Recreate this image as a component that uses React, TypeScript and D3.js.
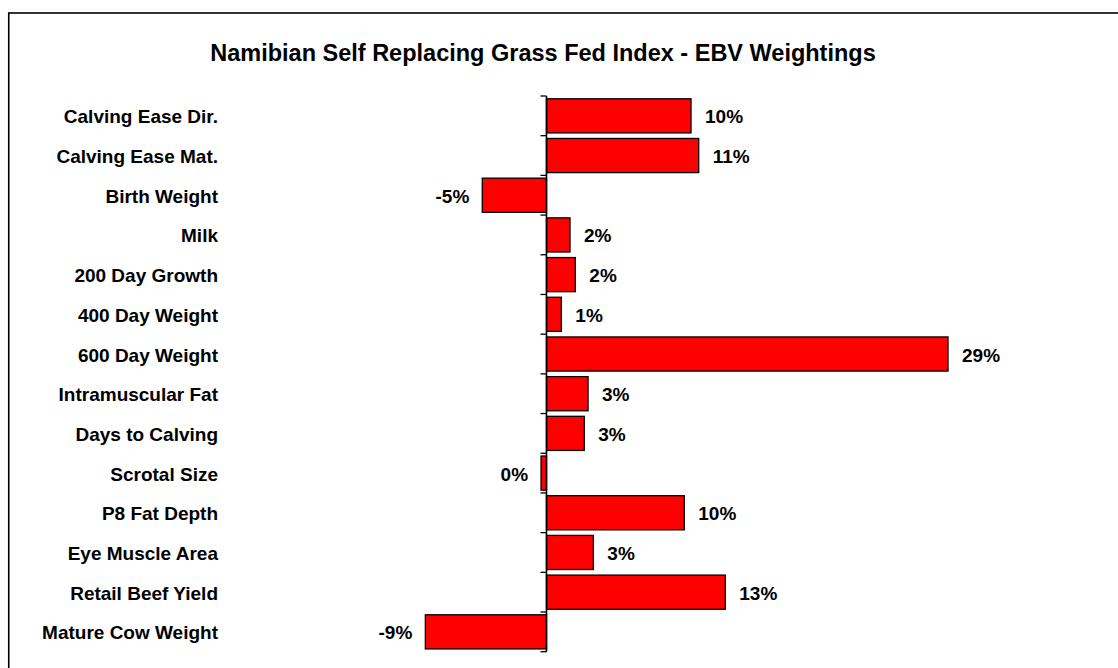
import React, { useEffect, useRef } from "react";
import * as d3 from "d3";

const title = "Namibian Self Replacing Grass Fed Index - EBV Weightings";
const categories = [
  "Calving Ease Dir.",
  "Calving Ease Mat.",
  "Birth Weight",
  "Milk",
  "200 Day Growth",
  "400 Day Weight",
  "600 Day Weight",
  "Intramuscular Fat",
  "Days to Calving",
  "Scrotal Size",
  "P8 Fat Depth",
  "Eye Muscle Area",
  "Retail Beef Yield",
  "Mature Cow Weight",
];
const weights = [
  0.1033, 0.1088, -0.0459, 0.0168, 0.0206, 0.0106, 0.287, 0.0297, 0.027,
  -0.0039, 0.0985, 0.0335, 0.1278, -0.0866,
];
const valueLabels = [
  "10%", "11%", "-5%", "2%", "2%", "1%", "29%", "3%", "3%", "0%", "10%", "3%", "13%", "-9%",
];

const W = 1118;
const H = 668;

export default function App() {
  const ref = useRef<SVGSVGElement>(null);
  useEffect(() => {
    const svg = d3.select(ref.current);
    svg.selectAll("*").remove();
    const font = "'Liberation Sans', Arial, sans-serif";

    svg
      .append("rect")
      .attr("x", 8.75)
      .attr("y", 13)
      .attr("width", 1130)
      .attr("height", 700)
      .attr("fill", "white")
      .attr("stroke", "#000")
      .attr("stroke-width", 1.6);

    svg
      .append("text")
      .attr("x", 543)
      .attr("y", 61)
      .attr("text-anchor", "middle")
      .attr("font-family", font)
      .attr("font-weight", "bold")
      .attr("font-size", 23.5)
      .text(title);

    const x = d3.scaleLinear().domain([-0.1, 0.3]).range([546.5 - 139.9, 546.5 + 419.7]);
    const y = d3
      .scaleBand<string>()
      .domain(categories)
      .range([96, 651.7])
      .paddingInner(0.14)
      .paddingOuter(0.07);

    const step = y.step();
    const g = svg.append("g");

    // category labels
    g.selectAll("text.cat")
      .data(categories)
      .join("text")
      .attr("class", "cat")
      .attr("x", 218)
      .attr("y", (d) => (y(d) as number) + y.bandwidth() / 2 + 7.5)
      .attr("text-anchor", "end")
      .attr("font-family", font)
      .attr("font-weight", "bold")
      .attr("font-size", 19)
      .text((d) => d);

    // bars
    g.selectAll("rect.bar")
      .data(weights)
      .join("rect")
      .attr("class", "bar")
      .attr("x", (d) => Math.min(x(0), x(d)))
      .attr("y", (_, i) => y(categories[i]) as number)
      .attr("width", (d) => Math.abs(x(d) - x(0)))
      .attr("height", y.bandwidth())
      .attr("fill", "#ff0000")
      .attr("stroke", "#000")
      .attr("stroke-width", 1.3);

    // axis
    g.append("line")
      .attr("x1", x(0))
      .attr("x2", x(0))
      .attr("y1", 96)
      .attr("y2", 651.7)
      .attr("stroke", "#000")
      .attr("stroke-width", 1.6);
    const tickYs = d3.range(categories.length + 1).map((i) => 96 + i * step);
    g.selectAll("line.tick")
      .data(tickYs)
      .join("line")
      .attr("class", "tick")
      .attr("x1", x(0) - 6)
      .attr("x2", x(0))
      .attr("y1", (d) => d)
      .attr("y2", (d) => d)
      .attr("stroke", "#000")
      .attr("stroke-width", 1.3);

    // value labels
    g.selectAll("text.val")
      .data(weights)
      .join("text")
      .attr("class", "val")
      .attr("x", (d) => (d >= 0 ? x(d) + 14 : x(d) - 13))
      .attr("y", (_, i) => (y(categories[i]) as number) + y.bandwidth() / 2 + 7.5)
      .attr("text-anchor", (d) => (d >= 0 ? "start" : "end"))
      .attr("font-family", font)
      .attr("font-weight", "bold")
      .attr("font-size", 19)
      .text((_, i) => valueLabels[i]);
  }, []);

  return (
    <svg
      ref={ref}
      width={W}
      height={H}
      style={{ position: "absolute", left: 0, top: 0, background: "white" }}
    />
  );
}
